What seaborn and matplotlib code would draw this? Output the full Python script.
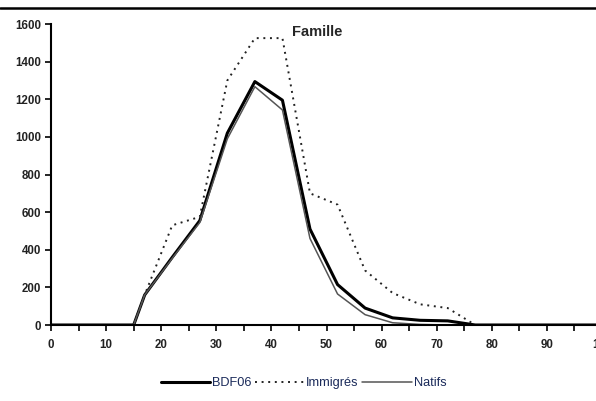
import numpy as np
import pandas as pd
import matplotlib.pyplot as plt
import seaborn as sns
from matplotlib.lines import Line2D
from matplotlib.ticker import MultipleLocator

sns.set_theme(style="white")
plt.rcParams["font.family"] = ["Liberation Sans Narrow", "Liberation Sans", "DejaVu Sans"]

# Âge (points de la courbe)
ages = [0, 5, 10, 15, 17, 22, 27, 32, 37, 42, 47, 52, 57, 62, 67, 72, 77, 82, 87, 92, 97, 102]
bdf06 = [0, 0, 0, 0, 160, 360, 555, 1020, 1294, 1195, 510, 215, 90, 38, 25, 22, 0, 0, 0, 0, 0, 0]
immigres = [0, 0, 0, 0, 160, 530, 575, 1300, 1525, 1525, 700, 640, 290, 170, 110, 90, 0, 0, 0, 0, 0, 0]
natifs = [0, 0, 0, 0, 160, 355, 545, 990, 1267, 1143, 460, 165, 55, 12, 3, 0, 0, 0, 0, 0, 0, 0]

df = pd.DataFrame({"age": ages, "BDF06": bdf06, "Immigrés": immigres, "Natifs": natifs})

fig = plt.figure(figsize=(5.96, 4.01), dpi=100)
ax = fig.add_axes([0.0856, 0.1895, 0.9245, 0.7506])

sns.lineplot(data=df, x="age", y="BDF06", ax=ax, color="black", linewidth=2.2, label="BDF06")
sns.lineplot(data=df, x="age", y="Immigrés", ax=ax, color="#222222", linewidth=1.4,
             linestyle=(0, (1, 2.4)), label="Immigrés")
sns.lineplot(data=df, x="age", y="Natifs", ax=ax, color="#555555", linewidth=1.1, label="Natifs")

ax.set_xlim(0, 100)
ax.set_ylim(0, 1600)
ax.set_xlabel("")
ax.set_ylabel("")
ax.xaxis.set_major_locator(MultipleLocator(10))
ax.xaxis.set_minor_locator(MultipleLocator(5))
ax.yaxis.set_major_locator(MultipleLocator(200))
ax.tick_params(axis="both", which="both", direction="out", length=4, width=1.2,
               color="black", labelsize=8.3, labelcolor="#222222")
ax.tick_params(axis="x", which="both", bottom=True, pad=6)
ax.tick_params(axis="y", left=True, pad=3)
for lab in ax.get_xticklabels() + ax.get_yticklabels():
    lab.set_fontweight("bold")

sns.despine(ax=ax)
ax.spines["left"].set_linewidth(1.5)
ax.spines["bottom"].set_linewidth(1.5)
ax.spines["left"].set_color("black")
ax.spines["bottom"].set_color("black")

ax.text(48.3, 1555, "Famille", ha="center", va="center", fontsize=10.5,
        fontweight="bold", family=["Liberation Sans", "DejaVu Sans"])

# ligne de séparation en haut
fig.add_artist(Line2D([0, 1], [0.98, 0.98], transform=fig.transFigure, color="black", linewidth=1.8))

leg = ax.legend(loc="center", bbox_to_anchor=(0.458, -0.193),
                ncol=3, frameon=False, handlelength=3.9, handletextpad=0.1,
                columnspacing=0.3, fontsize=9.2)
for t in leg.get_texts():
    t.set_color("#1a2a5a")

fig.savefig("out.png", dpi=100)
